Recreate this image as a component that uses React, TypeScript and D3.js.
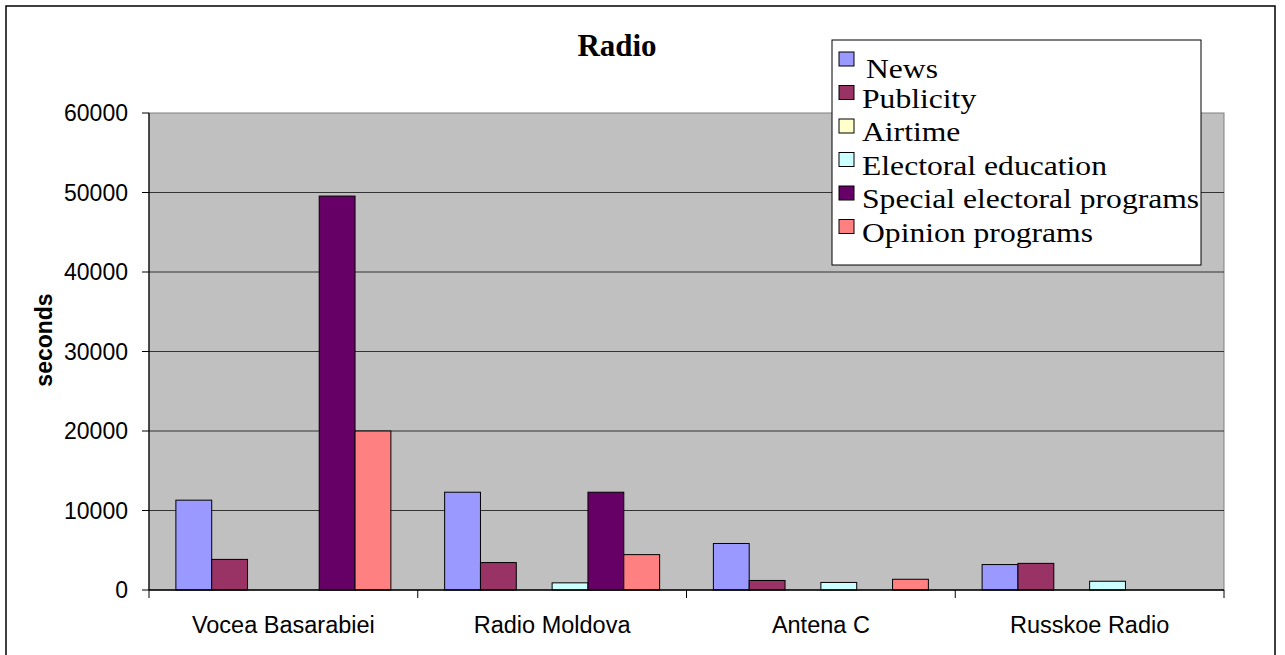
import * as d3 from "d3";

const categories = ["Vocea Basarabiei", "Radio Moldova", "Antena C", "Russkoe Radio"];
const seriesNames = ["News", "Publicity", "Airtime", "Electoral education", "Special electoral programs", "Opinion programs"];
const seriesColors = ["#9999FF", "#993366", "#FFFFCC", "#CCFFFF", "#660066", "#FF8080"];

// seconds per station, one array per series (same order as categories)
const news = [11300, 12300, 5850, 3200];
const publicity = [3850, 3450, 1200, 3350];
const airtime = [0, 0, 0, 0];
const electoralEducation = [0, 900, 950, 1100];
const specialPrograms = [49550, 12300, 0, 0];
const opinionPrograms = [20000, 4450, 1350, 0];

const seriesValues = [news, publicity, airtime, electoralEducation, specialPrograms, opinionPrograms];
const yTicks = [0, 10000, 20000, 30000, 40000, 50000, 60000];

const W = 1285;
const H = 655;
const plot = { left: 149, right: 1224, top: 113, bottom: 590 };

export default function App() {
  const x0 = d3.scaleBand<string>().domain(categories).range([plot.left, plot.right]).padding(0);
  const x1 = d3.scaleBand<string>()
    .domain(seriesNames)
    .range([0, x0.bandwidth()])
    .paddingInner(0)
    .paddingOuter(0.75);
  const y = d3.scaleLinear().domain([0, 60000]).range([plot.bottom, plot.top]);

  const sans = "'Liberation Sans', Arial, sans-serif";
  const serif = "'Liberation Serif', 'Times New Roman', serif";

  const boundaries = categories.map(c => x0(c)!).concat([plot.right]);

  return (
    <svg width={W} height={H} style={{ position: "absolute", left: 0, top: 0, background: "#fff" }}>
      {/* outer frame */}
      <rect x={6} y={6} width={1269} height={H + 10} fill="#fff" stroke="#000" strokeWidth={1.5} />

      {/* plot area */}
      <rect x={plot.left} y={plot.top} width={plot.right - plot.left} height={plot.bottom - plot.top}
        fill="#C0C0C0" stroke="#808080" strokeWidth={1} />

      {/* gridlines */}
      {yTicks.filter(t => t > 0 && t < 60000).map(t => (
        <line key={t} x1={plot.left} x2={plot.right} y1={y(t)} y2={y(t)} stroke="#333" strokeWidth={1.2} />
      ))}

      {/* bars */}
      {categories.map((c, ci) => (
        <g key={c} transform={`translate(${x0(c)},0)`}>
          {seriesNames.map((s, si) => {
            const v = seriesValues[si][ci];
            if (!v) return null;
            return (
              <rect key={s} x={x1(s)} y={y(v)} width={x1.bandwidth()} height={y(0) - y(v)}
                fill={seriesColors[si]} stroke="#000" strokeWidth={1} />
            );
          })}
        </g>
      ))}

      {/* y axis */}
      <line x1={plot.left} x2={plot.left} y1={plot.top} y2={plot.bottom} stroke="#000" strokeWidth={1.2} />
      {yTicks.map(t => (
        <g key={t}>
          <line x1={plot.left - 7} x2={plot.left} y1={y(t)} y2={y(t)} stroke="#000" />
          <text x={128} y={y(t)} dy="0.36em" textAnchor="end" fontFamily={sans} fontSize={23}>{t}</text>
        </g>
      ))}

      {/* x axis */}
      <line x1={plot.left} x2={plot.right} y1={plot.bottom} y2={plot.bottom} stroke="#000" strokeWidth={1.5} />
      {boundaries.map((b, i) => (
        <line key={i} x1={b} x2={b} y1={plot.bottom} y2={plot.bottom + 8} stroke="#000" />
      ))}
      {categories.map(c => (
        <text key={c} x={x0(c)! + x0.bandwidth() / 2} y={633} textAnchor="middle" fontFamily={sans} fontSize={23.5}>{c}</text>
      ))}

      {/* axis title */}
      <text transform="translate(52,340) rotate(-90)" textAnchor="middle" fontFamily={sans} fontWeight="bold" fontSize={23}>seconds</text>

      {/* chart title */}
      <text x={617} y={56} textAnchor="middle" fontFamily={serif} fontWeight="bold" fontSize={31}>Radio</text>

      {/* legend */}
      <g>
        <rect x={832} y={40} width={369} height={225} fill="#fff" stroke="#000" strokeWidth={1} />
        {seriesNames.map((s, i) => {
          const top = 52 + i * 33.5;
          return (
            <g key={s}>
              <rect x={839} y={top} width={15} height={14} fill={seriesColors[i]} stroke="#000" strokeWidth={1} />
              <text transform={`translate(${i === 0 ? 866 : 862},${i === 0 ? top + 26 : top + 22}) scale(1.13,1)`}
                fontFamily={serif} fontSize={28}>{s}</text>
            </g>
          );
        })}
      </g>
    </svg>
  );
}
